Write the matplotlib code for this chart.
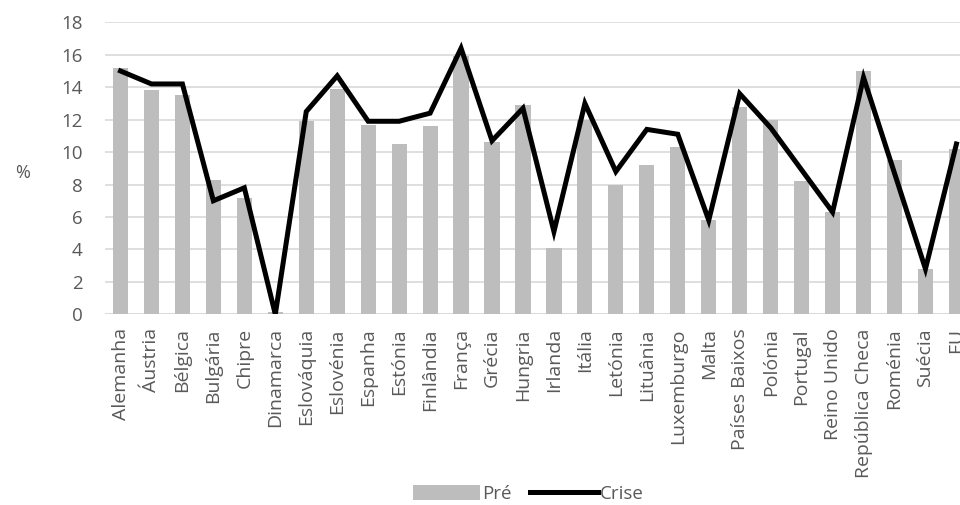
import matplotlib
matplotlib.use("Agg")
import matplotlib.pyplot as plt
import numpy as np

plt.rcParams['font.family'] = ['Open Sans', 'DejaVu Sans']

paises = ["Alemanha", "Áustria", "Bélgica", "Bulgária", "Chipre", "Dinamarca",
          "Eslováquia", "Eslovénia", "Espanha", "Estónia", "Finlândia", "França",
          "Grécia", "Hungria", "Irlanda", "Itália", "Letónia", "Lituânia",
          "Luxemburgo", "Malta", "Países Baixos", "Polónia", "Portugal",
          "Reino Unido", "República Checa", "Roménia", "Suécia", "EU"]

pre = [15.2, 13.8, 13.5, 8.3, 7.2, 0.15, 11.9, 13.9, 11.7, 10.5, 11.6, 15.9,
       10.6, 12.9, 4.1, 12.0, 8.0, 9.2, 10.3, 5.8, 12.8, 12.0, 8.2, 6.3,
       15.0, 9.5, 2.8, 10.2]

crise = [15.0, 14.2, 14.2, 7.0, 7.8, 0.0, 12.5, 14.7, 11.9, 11.9, 12.4, 16.4,
         10.7, 12.7, 5.1, 13.0, 8.8, 11.4, 11.1, 5.8, 13.6, 11.5, 8.9, 6.3,
         14.6, 8.7, 2.8, 10.5]

cinza_txt = "#595959"

fig = plt.figure(figsize=(9.6, 5.05), dpi=100)
ax = fig.add_axes([0.1094, 0.3776, 0.903, 0.5782])

x = np.arange(len(paises))
barras = ax.bar(x, pre, width=0.49, color="#bdbdbd", label="Pré", zorder=2)
linha, = ax.plot(x, crise, color="black", linewidth=3.6, label="Crise", zorder=3,
                 solid_joinstyle="miter")

ax.set_xlim(-0.5, len(paises) - 0.5)
ax.set_ylim(0, 18)
ax.set_yticks(np.arange(0, 19, 2))
ax.yaxis.grid(True, color="#d9d9d9", linewidth=1.2, zorder=0)
ax.set_axisbelow(True)
for s in ax.spines.values():
    s.set_visible(False)
ax.axhline(0, color="#d9d9d9", linewidth=1.2, zorder=1)

ax.set_xticks(x)
ax.set_xticklabels(paises, rotation=90, fontsize=14, color=cinza_txt, va="top")
ax.tick_params(axis="x", length=0, pad=10)
ax.tick_params(axis="y", length=0, pad=16, labelsize=13.5, labelcolor=cinza_txt)

fig.text(0.023, 1 - 173 / 505, "%", fontsize=13, color=cinza_txt,
         ha="center", va="center")

fig.legend([barras, linha], ["Pré", "Crise"], loc="center",
           bbox_to_anchor=(0.55, 1 - 494 / 505), ncol=2,
           frameon=False, fontsize=13.5, labelcolor=cinza_txt,
           handlelength=3.6, handletextpad=0.1, columnspacing=1.0,
           handleheight=0.9)

fig.savefig("out.png", dpi=100)
